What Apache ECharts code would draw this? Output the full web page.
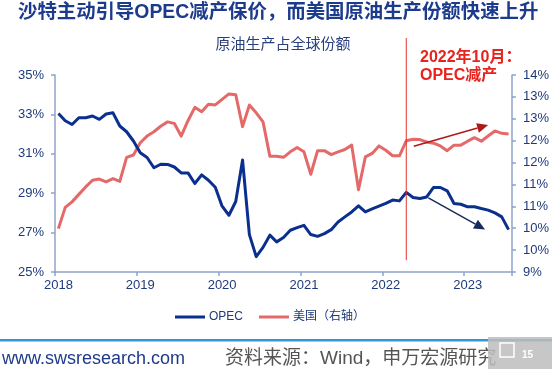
<!DOCTYPE html>
<html>
<head>
<meta charset="utf-8">
<script src="https://cdn.jsdelivr.net/npm/echarts@6/dist/echarts.min.js"></script>
<style>
html,body{margin:0;padding:0;background:#fff;}
#c{width:552px;height:369px;}
</style>
</head>
<body>
<div id="c"></div>
<script>
// ---- data ----
var years = ['2018','2019','2020','2021','2022','2023'];
var months = [];
for (var y = 0; y < years.length; y++) {
  for (var m = 1; m <= 12; m++) {
    if (years[y] === '2023' && m > 7) break;
    months.push(years[y] + '-' + (m < 10 ? '0' + m : m));
  }
}
var opecShare = [
  33.05,32.68,32.49,32.83,32.83,32.92,32.75,33.02,33.08,32.41,32.12,31.65,
  31.05,30.81,30.29,30.47,30.46,30.33,30.03,30.03,29.49,29.93,29.66,29.30,
  28.34,27.88,28.58,30.68,26.90,25.78,26.25,26.87,26.53,26.75,27.12,27.25,
  27.37,26.90,26.81,26.95,27.15,27.54,27.80,28.05,28.36,28.05,28.20,28.34,
  28.48,28.65,28.61,29.04,28.78,28.73,28.81,29.29,29.29,29.12,28.48,28.44,
  28.31,28.31,28.22,28.14,28.00,27.80,27.15
];
var usShare = [
  10.10,10.64,10.78,10.97,11.16,11.33,11.36,11.29,11.37,11.30,11.91,11.97,
  12.28,12.45,12.56,12.70,12.81,12.77,12.45,12.84,13.18,13.07,13.26,13.24,
  13.38,13.52,13.50,12.69,13.24,13.04,12.81,11.94,11.94,11.91,12.05,12.16,
  12.05,11.48,12.08,12.08,11.98,12.05,12.11,12.22,11.09,11.92,12.01,12.20,
  12.09,11.95,11.95,12.33,12.37,12.36,12.30,12.27,12.20,12.08,12.22,12.22,
  12.32,12.41,12.32,12.45,12.58,12.52,12.50
];
var leftTicks = [25, 27, 29, 31, 33, 35];
var rightTickValues = [9, 9.5556, 10.1111, 10.6667, 11.2222, 11.7778, 12.3333, 12.8889, 13.4444, 14];
var rightTickLabels = ['9%','10%','10%','11%','11%','12%','12%','13%','13%','14%'];
var cutMonth = '2022-04';
// annotation arrows: [monthIndex, value]
var redArrow = [[52.1, 12.19], [63.0, 12.73]];   // right axis
var blueArrow = [[54.24, 28.76], [62.55, 27.16]]; // left axis
var cutLineRange = [25.6, 36.88]; // left-axis values for vertical line ends

var FONT = '"Liberation Sans","Noto Sans CJK SC",sans-serif';
var AXIS_COLOR = '#8fa3c9';
var LABEL_COLOR = '#1f3a7a';

var chart = echarts.init(document.getElementById('c'), null, {renderer: 'canvas'});

var option = {
  backgroundColor: '#fff',
  animation: false,
  textStyle: {fontFamily: FONT},
  grid: {left: 55, right: 40, top: 75, bottom: 97, containLabel: false},
  legend: {
    left: 175, top: 311, padding: 0,
    itemWidth: 30, itemHeight: 3, itemGap: 16, icon: 'rect',
    textStyle: {fontSize: 12, color: LABEL_COLOR, fontFamily: FONT, padding: [0,0,0,-1]},
    data: ['OPEC', '美国（右轴）']
  },
  xAxis: {
    type: 'category', data: months, boundaryGap: true,
    axisLine: {lineStyle: {color: AXIS_COLOR, width: 1.5}},
    axisTick: {show: true, length: 4, alignWithLabel: false, lineStyle: {color: AXIS_COLOR, width: 1.5},
      interval: function (i) { return i % 12 === 0; }},
    axisLabel: {fontSize: 13, color: LABEL_COLOR, margin: 7, fontFamily: FONT,
      interval: function (i) { return i % 12 === 0; },
      formatter: function (v) { return v.slice(0, 4); }},
    splitLine: {show: false}
  },
  yAxis: [
    {
      type: 'value', min: leftTicks[0], max: leftTicks[leftTicks.length - 1], interval: 2, position: 'left',
      axisLine: {show: true, lineStyle: {color: AXIS_COLOR, width: 1.5}},
      axisTick: {show: true, length: 4, lineStyle: {color: AXIS_COLOR, width: 1.5}},
      axisLabel: {fontSize: 13, color: LABEL_COLOR, margin: 11, fontFamily: FONT,
        formatter: function (v) { return v + '%'; }},
      splitLine: {show: false}
    },
    {
      type: 'value', min: 9, max: 14, position: 'right',
      axisLine: {show: true, lineStyle: {color: AXIS_COLOR, width: 1.5}},
      axisTick: {show: true, length: 4, lineStyle: {color: AXIS_COLOR, width: 1.5},
        customValues: rightTickValues},
      axisLabel: {fontSize: 13, color: LABEL_COLOR, margin: 11, fontFamily: FONT,
        customValues: rightTickValues,
        formatter: function (v) {
          for (var k = 0; k < rightTickValues.length; k++) {
            if (Math.abs(rightTickValues[k] - v) < 1e-3) return rightTickLabels[k];
          }
          return '';
        }},
      splitLine: {show: false}
    }
  ],
  series: [
    {
      name: 'OPEC', type: 'line', yAxisIndex: 0, data: opecShare,
      showSymbol: false, symbol: 'none', smooth: false,
      lineStyle: {color: '#0a2f8f', width: 3, join: 'round'},
      itemStyle: {color: '#0a2f8f'}, z: 3
    },
    {
      name: '美国（右轴）', type: 'line', yAxisIndex: 1, data: usShare,
      showSymbol: false, symbol: 'none', smooth: false,
      lineStyle: {color: '#e46a6a', width: 3, join: 'round'},
      itemStyle: {color: '#e46a6a'}, z: 2
    }
  ]
};
chart.setOption(option);

function xAt(idx) {
  var x0 = chart.convertToPixel({xAxisIndex: 0}, months[0]);
  var x1 = chart.convertToPixel({xAxisIndex: 0}, months[months.length - 1]);
  return x0 + (x1 - x0) * idx / (months.length - 1);
}
function arrowGraphics(pts, axisIdx, color) {
  var ax = xAt(pts[0][0]), ay = chart.convertToPixel({yAxisIndex: axisIdx}, pts[0][1]);
  var bx = xAt(pts[1][0]), by = chart.convertToPixel({yAxisIndex: axisIdx}, pts[1][1]);
  var ang = Math.atan2(by - ay, bx - ax);
  var L = 11, W = 5;
  var baseX = bx - L * Math.cos(ang), baseY = by - L * Math.sin(ang);
  var px = -Math.sin(ang) * W, py = Math.cos(ang) * W;
  return [
    {type: 'line', shape: {x1: ax, y1: ay, x2: baseX, y2: baseY},
      style: {stroke: color, lineWidth: 1.5}, z: 10},
    {type: 'polygon', shape: {points: [[bx, by], [baseX + px, baseY + py], [baseX - px, baseY - py]]},
      style: {fill: color}, z: 10}
  ];
}

var cutX = chart.convertToPixel({xAxisIndex: 0}, cutMonth);
var cutY0 = chart.convertToPixel({yAxisIndex: 0}, cutLineRange[0]);
var cutY1 = chart.convertToPixel({yAxisIndex: 0}, cutLineRange[1]);

var graphics = [
  {type: 'text', left: 18, top: 3, z: 20,
    style: {text: '沙特主动引导OPEC减产保价，而美国原油生产份额快速上升', fill: '#1c3b8c',
      font: 'bold 19.4px "Liberation Sans","Noto Sans CJK SC",sans-serif'}},
  {type: 'text', x: 283, y: 43, z: 20,
    style: {text: '原油生产占全球份额', fill: '#2a3f7e', align: 'center', verticalAlign: 'middle',
      font: '15px "Noto Sans CJK SC",sans-serif'}},
  {type: 'line', shape: {x1: cutX, y1: cutY1, x2: cutX, y2: cutY0},
    style: {stroke: '#e0342c', lineWidth: 1}, z: 9},
  {type: 'text', x: 420, y: 58, z: 20,
    style: {text: '2022年10月：', fill: '#e8231d', verticalAlign: 'middle',
      font: 'bold 16px "Liberation Sans","Noto Sans CJK SC",sans-serif'}},
  {type: 'text', x: 420, y: 76, z: 20,
    style: {text: 'OPEC减产', fill: '#e8231d', verticalAlign: 'middle',
      font: 'bold 16px "Liberation Sans","Noto Sans CJK SC",sans-serif'}},
  // footer
  {type: 'rect', shape: {x: 0, y: 339, width: 552, height: 2.5}, style: {fill: '#2e9ad6'}, z: 5},
  {type: 'text', x: 2, y: 359, z: 20,
    style: {text: 'www.swsresearch.com', fill: '#1f3a8a', verticalAlign: 'middle',
      font: '18px "Liberation Sans",sans-serif'}},
  {type: 'text', x: 225, y: 359, z: 20,
    style: {text: '资料来源：Wind，申万宏源研究', fill: '#555555', verticalAlign: 'middle',
      font: '19px "Liberation Sans","Noto Sans CJK SC",sans-serif'}},
  {type: 'rect', shape: {x: 488, y: 337, width: 64, height: 32}, style: {fill: '#bdbdbd', opacity: 0.85}, z: 30},
  {type: 'rect', shape: {x: 500, y: 343, width: 14, height: 14}, style: {fill: 'none', stroke: '#ffffff', lineWidth: 1.5}, z: 31},
  {type: 'text', x: 522, y: 355, z: 31,
    style: {text: '15', fill: '#ffffff', verticalAlign: 'middle',
      font: 'bold 10px "Liberation Sans",sans-serif'}}
];
graphics = graphics.concat(arrowGraphics(redArrow, 1, '#b01818'));
graphics = graphics.concat(arrowGraphics(blueArrow, 0, '#1b2a5c'));
chart.setOption({graphic: graphics});
</script>
</body>
</html>
